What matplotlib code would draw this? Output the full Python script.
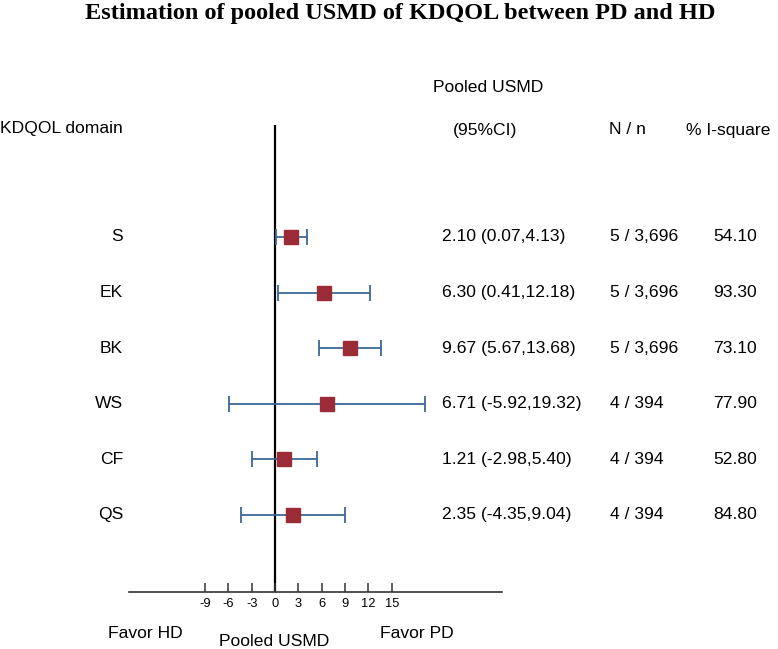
import numpy as np
import matplotlib
matplotlib.use("Agg")
import matplotlib.pyplot as plt
import matplotlib.transforms as mtransforms

plt.rcParams['font.family'] = ['Liberation Sans', 'DejaVu Sans']

# data
domains = ["S", "EK", "BK", "WS", "CF", "QS"]
usmd = [2.10, 6.30, 9.67, 6.71, 1.21, 2.35]
ci_low = [0.07, 0.41, 5.67, -5.92, -2.98, -4.35]
ci_high = [4.13, 12.18, 13.68, 19.32, 5.40, 9.04]
n_studies = [5, 5, 5, 4, 4, 4]
n_patients = [3696, 3696, 3696, 394, 394, 394]
i_square = [54.10, 93.30, 73.10, 77.90, 52.80, 84.80]
xticks = [-9, -6, -3, 0, 3, 6, 9, 12, 15]

W, H = 778, 649


def fx(x):
    return x / W


def fy(y):
    return 1 - y / H


fig = plt.figure(figsize=(W / 100, H / 100), dpi=100)
# axes box: zero line runs from y=125 to the axis at y=592, axis from x=129 to 502
ax = fig.add_axes([fx(129), fy(592), (502 - 129) / W, (592 - 125) / H])
ax.set_xlim(-18.77, 29.18)
ax.set_ylim(6.385, -2.014)

rows = np.arange(len(domains))
lo = np.array(usmd) - np.array(ci_low)
hi = np.array(ci_high) - np.array(usmd)

ax.errorbar(usmd, rows, xerr=[lo, hi], fmt='none', ecolor='#3b6896',
            elinewidth=1.3, capsize=5.5, capthick=1.3, zorder=2)
ax.plot(usmd, rows, 's', color='#9b2c37', markersize=9.5, zorder=3)
ax.axvline(0, color='black', lw=1.6, zorder=1)

for s in ['top', 'right', 'left']:
    ax.spines[s].set_visible(False)
ax.spines['bottom'].set_color('#333333')
ax.spines['bottom'].set_linewidth(1.2)
ax.set_yticks([])
ax.set_xticks(xticks)
ax.set_xticklabels([str(t) for t in xticks])
ax.tick_params(axis='x', direction='in', length=6.5, width=1.1,
               color='#333333', labelsize=9.3, pad=4)

# texts that follow the rows
tr = mtransforms.blended_transform_factory(fig.transFigure, ax.transData)
for i, d in enumerate(domains):
    ax.text(fx(123), i, d, transform=tr, ha='right', va='center', fontsize=12.6)
    ax.text(fx(442), i, f"{usmd[i]:.2f} ({ci_low[i]:.2f},{ci_high[i]:.2f})",
            transform=tr, ha='left', va='center', fontsize=12.6)
    ax.text(fx(610), i, f"{n_studies[i]} / {n_patients[i]:,}",
            transform=tr, ha='left', va='center', fontsize=12.6)
    ax.text(fx(713), i, f"{i_square[i]:.2f}",
            transform=tr, ha='left', va='center', fontsize=12.6)

# headers
fig.text(fx(400), fy(13), "Estimation of pooled USMD of KDQOL between PD and HD",
         ha='center', va='center', fontsize=17.5, fontweight='bold',
         family='Liberation Serif')
fig.text(fx(0), fy(128), "KDQOL domain", ha='left', va='center', fontsize=12.6)
fig.text(fx(488), fy(87), "Pooled USMD", ha='center', va='center', fontsize=12.6)
fig.text(fx(485), fy(130), "(95%CI)", ha='center', va='center', fontsize=12.6)
fig.text(fx(627), fy(130), "N / n", ha='center', va='center', fontsize=12.6)
fig.text(fx(728), fy(130), "% I-square", ha='center', va='center', fontsize=12.6)

# bottom labels
fig.text(fx(108), fy(633), "Favor HD", ha='left', va='center', fontsize=12.6)
fig.text(fx(274), fy(642), "Pooled USMD", ha='center', va='center', fontsize=12.6)
fig.text(fx(380), fy(633), "Favor PD", ha='left', va='center', fontsize=12.6)

fig.savefig("out.png", dpi=100)
